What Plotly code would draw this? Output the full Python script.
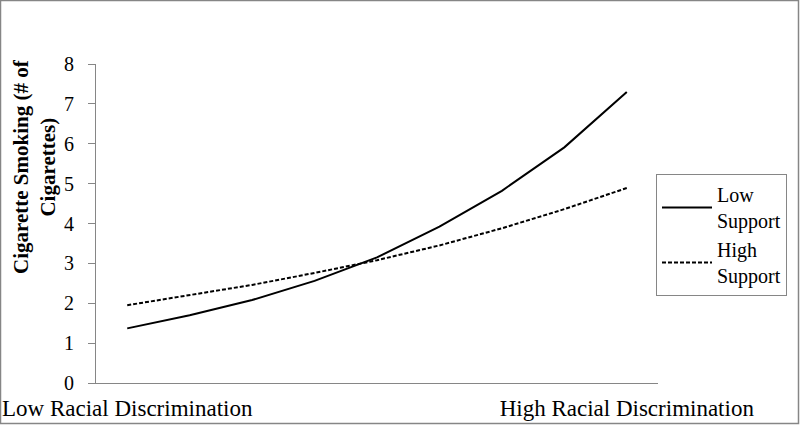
import plotly.graph_objects as go

steps = list(range(9))
low_support = [1.37, 1.70, 2.08, 2.56, 3.15, 3.92, 4.82, 5.91, 7.30]
high_support = [1.95, 2.20, 2.46, 2.76, 3.08, 3.45, 3.88, 4.36, 4.89]
x_tick_vals = [0, 8]
x_tick_text = ["Low Racial Discrimination", "High Racial Discrimination"]
y_ticks = list(range(9))

W, H = 800, 426
L, R, T, B = 96, 142, 64, 43
pw, ph = W - L - R, H - T - B

font = "Liberation Serif, Times New Roman, serif"
axis_grey = "#868686"

fig = go.Figure()
fig.add_trace(go.Scatter(x=steps, y=low_support, mode="lines", name="Low<br>Support",
                         line=dict(color="black", width=2)))
fig.add_trace(go.Scatter(x=steps, y=high_support, mode="lines", name="High<br>Support",
                         line=dict(color="black", width=2, dash="4px,2px")))

fig.update_layout(
    width=W, height=H,
    margin=dict(l=L, r=R, t=T, b=B, autoexpand=False),
    paper_bgcolor="white", plot_bgcolor="white",
    font=dict(family=font, size=20, color="black"),
    showlegend=True,
    legend=dict(x=(656 - L) / pw, y=(H - B - 174) / ph, xanchor="left", yanchor="top",
                bordercolor=axis_grey, borderwidth=1, bgcolor="white",
                font=dict(size=20), tracegroupgap=2, itemwidth=50),
)
fig.update_xaxes(range=[-0.5, 8.5], tickvals=x_tick_vals, ticktext=x_tick_text,
                 showline=True, linecolor=axis_grey, linewidth=1, showgrid=False,
                 zeroline=False, ticks="", ticklabelstandoff=4,
                 tickfont=dict(size=23))
fig.update_yaxes(range=[0, 8], tickvals=y_ticks, showline=True, linecolor=axis_grey,
                 linewidth=1, showgrid=False, zeroline=False, ticks="outside",
                 ticklen=7, tickcolor=axis_grey, ticklabelstandoff=10)

# y-axis title placed to match the original offset
fig.add_annotation(text="<b>Cigarette Smoking (# of<br>Cigarettes)</b>", textangle=-90,
                   xref="paper", yref="paper", x=(34 - L) / pw, y=(H - B - 167) / ph,
                   xanchor="center", yanchor="middle",
                   showarrow=False, font=dict(size=21), align="center")

# outer frame
fig.add_shape(type="rect", xref="paper", yref="paper",
              x0=(0.5 - L) / pw, x1=(W - 1.5 - L) / pw,
              y0=(H - B - H + 2.5) / ph, y1=(H - B - 0.5) / ph,
              line=dict(color=axis_grey, width=1.5), layer="below")

fig.write_html("out.html", config={"displayModeBar": False},
               post_script="document.body.style.margin='0';document.body.style.overflow='hidden';")
